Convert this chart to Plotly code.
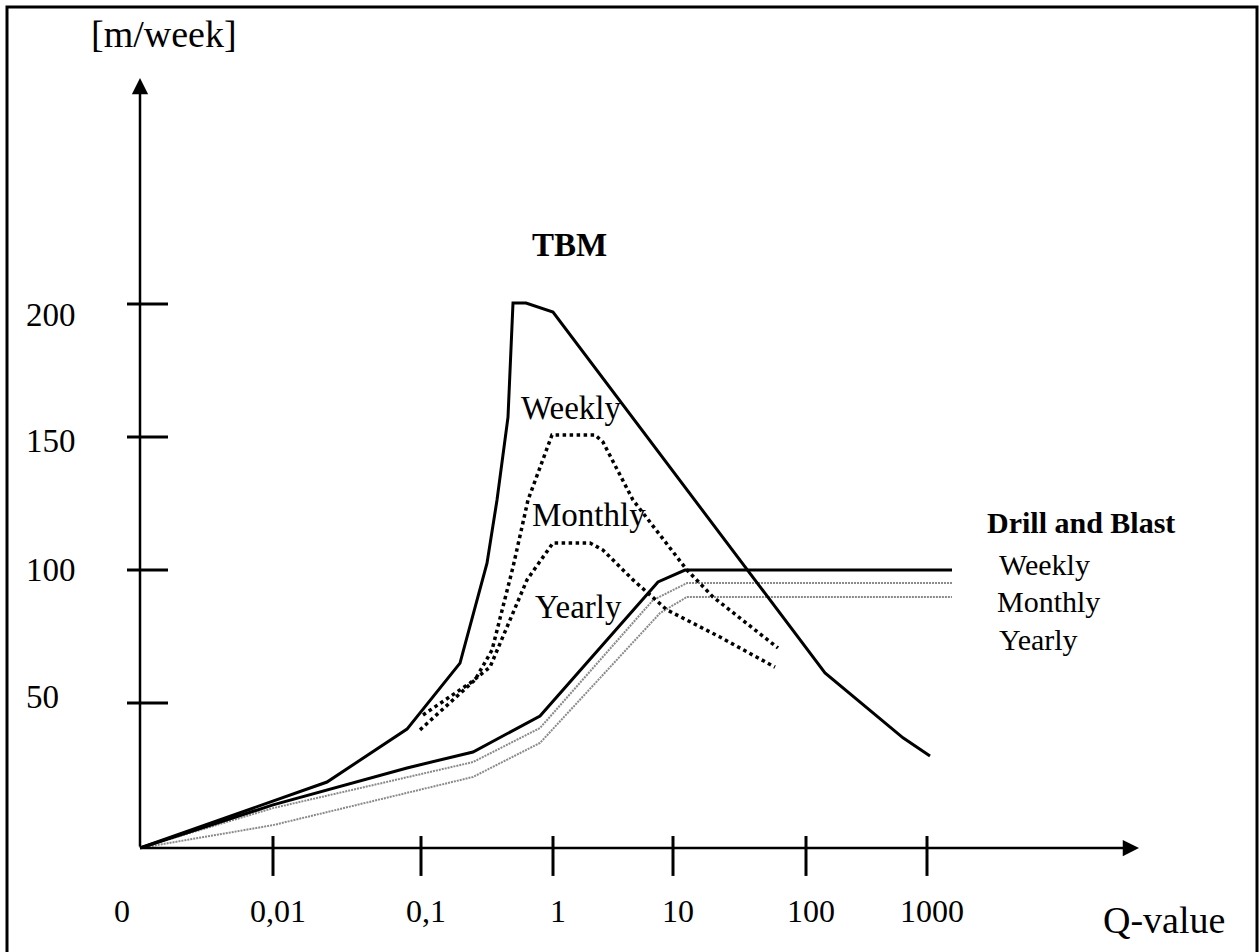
import plotly.graph_objects as go

# Horizontal scale: labelled Q-values and where they sit along the axis
q_labels = ["0,01", "0,1", "1", "10", "100", "1000"]
q_pos = [133, 281, 413, 533, 666, 787]

# Vertical scale: advance rate ticks [m/week]
rate_labels = ["50", "100", "150", "200"]
rate_pos = [54.5, 104.5, 154.5, 204.5]

# TBM performance
tbm_x = [0, 187, 267, 320, 347, 357, 368, 373, 386, 413, 685, 730, 763, 790]
tbm_y = [0, 24.8, 44.7, 69.5, 107.1, 130.8, 162.0, 204.9, 204.9, 201.5, 65.8, 51.9, 41.4, 34.6]

tbm_weekly_x = [280, 335, 352, 373, 388, 412, 455, 463, 493, 547, 573, 638]
tbm_weekly_y = [44.4, 63.2, 74.4, 105.6, 130.8, 155.3, 155.3, 152.6, 130.8, 104.5, 94.4, 75.2]

tbm_monthly_x = [283, 330, 350, 387, 413, 450, 463, 493, 527, 580, 635]
tbm_monthly_y = [50.0, 62.0, 68.0, 100.8, 114.7, 114.7, 112.0, 100.8, 89.5, 79.3, 68.0]

# Drill and blast performance
db_weekly_x = [0, 133, 267, 333, 400, 518, 545, 812]
db_weekly_y = [0, 16.2, 30.1, 36.1, 49.6, 100.0, 104.5, 104.5]

db_monthly_x = [0, 133, 333, 400, 513, 547, 812]
db_monthly_y = [0, 15.0, 32.3, 45.1, 93.2, 99.6, 99.6]

db_yearly_x = [0, 133, 333, 400, 520, 547, 812]
db_yearly_y = [0, 8.6, 26.7, 39.5, 88.3, 94.4, 94.4]

SERIF = "Liberation Serif"
INK = "black"

fig = go.Figure()

def curve(x, y, width, dash="solid", color=INK):
    fig.add_trace(go.Scatter(
        x=x, y=y, mode="lines", hoverinfo="skip", showlegend=False,
        line=dict(color=color, width=width, dash=dash, shape="linear"),
    ))

curve(db_yearly_x, db_yearly_y, 2, "2px,1px", "#8a8a8a")
curve(db_monthly_x, db_monthly_y, 2, "2px,1px", "#8a8a8a")
curve(db_weekly_x, db_weekly_y, 3)
curve(tbm_monthly_x, tbm_monthly_y, 3.5, "3.5px,3.5px")
curve(tbm_weekly_x, tbm_weekly_y, 3.5, "3.5px,3.5px")
curve(tbm_x, tbm_y, 3)

shapes = []
annotations = []

# outer frame
shapes.append(dict(type="rect", xref="paper", yref="paper",
                   x0=7 / 1259, x1=1257 / 1259, y0=-0.02, y1=1 - 7 / 952,
                   line=dict(color=INK, width=3)))

# axes with arrow heads
annotations.append(dict(x=0, y=289.5, ax=0, ay=0, xref="x", yref="y",
                        axref="x", ayref="y", text="", showarrow=True,
                        arrowhead=2, arrowsize=1.3, arrowwidth=2.5,
                        arrowcolor=INK))
annotations.append(dict(x=999, y=0, ax=0, ay=0, xref="x", yref="y",
                        axref="x", ayref="y", text="", showarrow=True,
                        arrowhead=2, arrowsize=1.3, arrowwidth=2.5,
                        arrowcolor=INK))

# ticks crossing the axes
for p in q_pos:
    shapes.append(dict(type="line", xref="x", yref="y", x0=p, x1=p,
                       y0=4.5, y1=-10.5, line=dict(color=INK, width=3)))
for p in rate_pos:
    shapes.append(dict(type="line", xref="x", yref="y", x0=-13, x1=28,
                       y0=p, y1=p, line=dict(color=INK, width=3)))

tick_font = dict(family=SERIF, size=32, color=INK)
annotations.append(dict(x=0, y=-23.7, xref="x", yref="y", text="0",
                        showarrow=False, xshift=-18, font=tick_font))
for lab, p in zip(q_labels, q_pos):
    annotations.append(dict(x=p, y=-23.7, xref="x", yref="y", text=lab,
                            showarrow=False, xshift=5, font=tick_font))
# the rate labels drift slightly relative to their ticks
rate_label_shift = [6, 0, -4, -11]
for lab, p, s in zip(rate_labels, rate_pos, rate_label_shift):
    annotations.append(dict(x=-116, y=p, xref="x", yref="y", text=lab,
                            showarrow=False, xanchor="left", yshift=s,
                            font=dict(family=SERIF, size=33, color=INK)))

def label(x, y, text, size, xanchor="center"):
    annotations.append(dict(x=x, y=y, xref="x", yref="y", text=text,
                            showarrow=False, xanchor=xanchor,
                            font=dict(family=SERIF, size=size, color=INK)))

label(24, 306.0, "[m/week]", 38)
label(1024, -27.1, "Q-value", 38)
label(429, 226.7, "<b>TBM</b>", 33)
label(431, 165.4, "Weekly", 33)
label(449, 125.2, "Monthly", 33)
label(438, 90.6, "Yearly", 33)
label(941, 122.2, "<b>Drill and Blast</b>", 30)
label(857, 106.4, "Weekly", 30, "left")
label(855, 92.5, "Monthly", 30, "left")
label(857, 78.2, "Yearly", 30, "left")

fig.update_layout(
    width=1259, height=952,
    margin=dict(l=0, r=0, t=0, b=0),
    paper_bgcolor="white", plot_bgcolor="white",
    xaxis=dict(visible=False, range=[-140, 1119], fixedrange=True),
    yaxis=dict(visible=False, range=[-39.1, 318.8], fixedrange=True),
    shapes=shapes, annotations=annotations,
    showlegend=False,
)

fig.write_html("out.html")
